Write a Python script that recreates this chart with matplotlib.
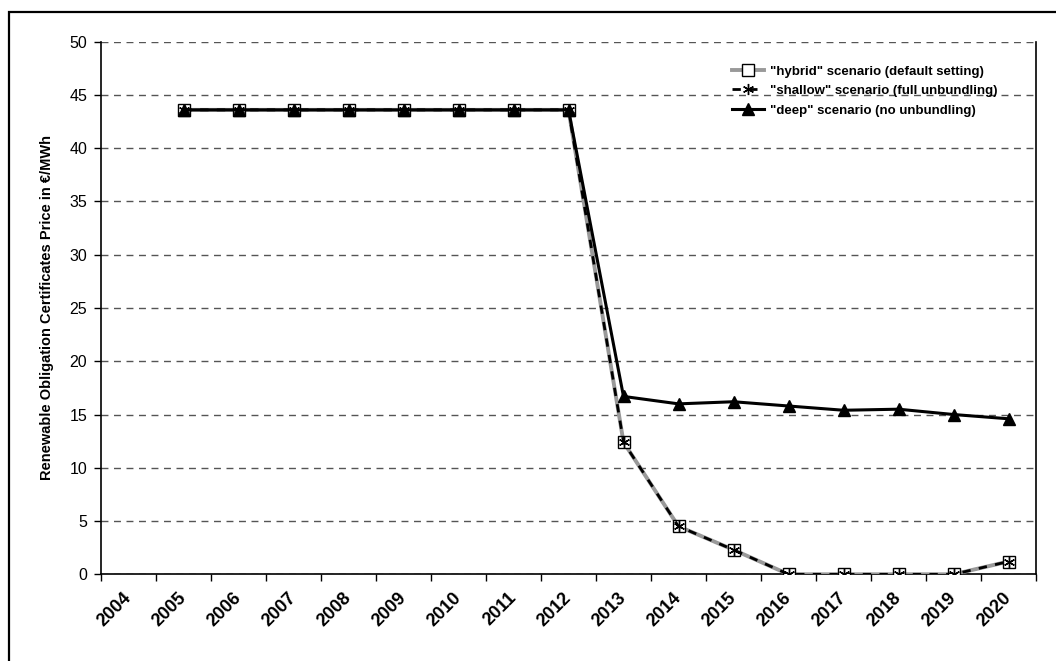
import matplotlib.pyplot as plt
import numpy as np
from matplotlib.patches import Rectangle

plt.rcParams['font.family'] = ['Liberation Sans', 'DejaVu Sans']

# categories on the x axis
years = ['2004', '2005', '2006', '2007', '2008', '2009', '2010', '2011', '2012',
         '2013', '2014', '2015', '2016', '2017', '2018', '2019', '2020']

# prices in EUR/MWh, 2005..2020
hybrid = [43.6, 43.6, 43.6, 43.6, 43.6, 43.6, 43.6, 43.6,
          12.4, 4.5, 2.3, 0.0, 0.0, 0.0, 0.0, 1.2]
shallow = [43.6, 43.6, 43.6, 43.6, 43.6, 43.6, 43.6, 43.6,
           12.4, 4.5, 2.3, 0.0, 0.0, 0.0, 0.0, 1.2]
deep = [43.6, 43.6, 43.6, 43.6, 43.6, 43.6, 43.6, 43.6,
        16.7, 16.0, 16.2, 15.8, 15.4, 15.5, 15.0, 14.6]

W, H = 1056, 661
fig = plt.figure(figsize=(W / 100, H / 100), dpi=100)
ax = fig.add_axes([101 / W, 1 - 574.3 / H, (1036 - 101) / W, (574.3 - 41.7) / H])

centers = np.arange(len(years)) + 0.5
xs = centers[1:]

ax.plot(xs, hybrid, color='#999999', lw=2.8, marker='s', ms=8.5,
        mfc='white', mec='black', mew=1.0, label='"hybrid" scenario (default setting)', zorder=3)
ax.plot(xs, shallow, color='black', lw=2.0, ls=(0, (3, 3)), marker=(6, 2, 0), ms=8,
        mec='black', mew=1.0, label='"shallow" scenario (full unbundling)', zorder=4)
ax.plot(xs, deep, color='black', lw=2.2, marker='^', ms=8.5,
        mfc='black', mec='black', label='"deep" scenario (no unbundling)', zorder=5)

ax.set_xlim(0, len(years))
ax.set_ylim(0, 50)
ax.set_yticks(np.arange(0, 51, 5))
ax.set_xticks(np.arange(len(years) + 1))
ax.set_xticklabels([])
ax.set_xticks(centers, years, minor=True)
ax.tick_params(axis='x', which='major', direction='out', length=5, width=1)
ax.tick_params(axis='x', which='minor', length=0, pad=15)
ax.tick_params(axis='y', direction='out', length=5, width=1, labelsize=11.5, pad=5)
for lab in ax.get_xticklabels(minor=True):
    lab.set_rotation(45)
    lab.set_ha('right')
    lab.set_va('center')
    lab.set_rotation_mode('anchor')
    lab.set_fontweight('bold')
    lab.set_fontsize(13)

ax.yaxis.grid(True, color='#555555', ls=(0, (5, 4)), lw=1)
ax.set_axisbelow(True)
ax.spines['top'].set_visible(False)
for s in ['left', 'bottom', 'right']:
    ax.spines[s].set_color('black')
    ax.spines[s].set_linewidth(1.2)

ax.set_ylabel('Renewable Obligation Certificates Price in €/MWh',
              fontsize=10.5, fontweight='bold')
ax.yaxis.set_label_coords(-0.05, 0.5)

ax.legend(loc='upper right', bbox_to_anchor=(0.972, 0.978), frameon=False,
          prop={'weight': 'bold', 'size': 9.5}, handlelength=2.4,
          handletextpad=0.5, labelspacing=0.55)

# outer chart frame
fig.patches.append(Rectangle((9 / W, -0.05), 1.1, 1 - 12 / H + 0.05,
                             transform=fig.transFigure, fill=False,
                             ec='black', lw=1.6))

fig.savefig('out.png', dpi=100)
